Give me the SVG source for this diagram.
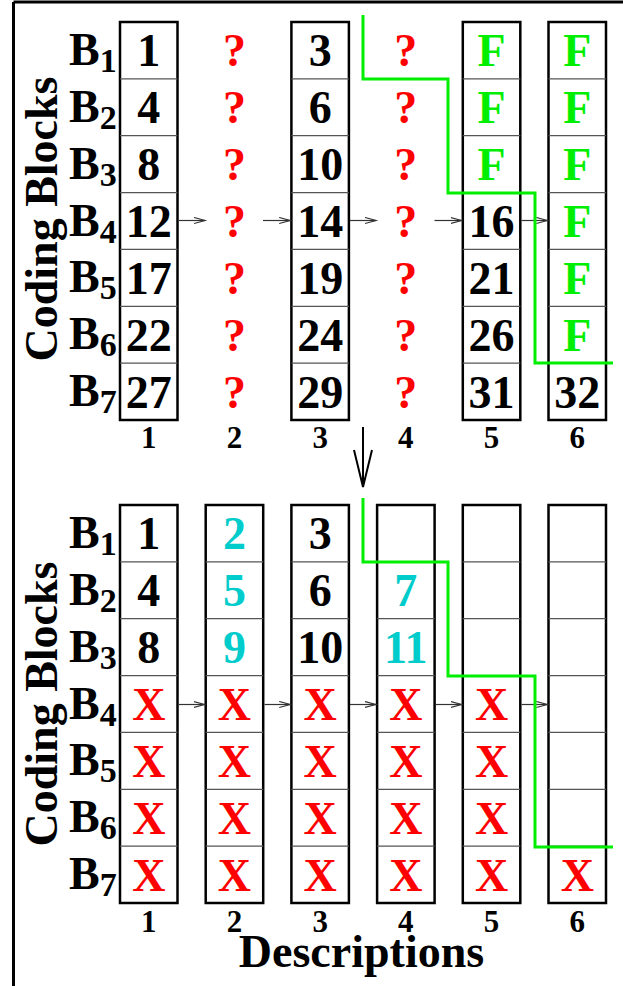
<svg xmlns="http://www.w3.org/2000/svg" width="623" height="986" viewBox="0 0 623 986">
<defs>
<marker id="ah" markerUnits="userSpaceOnUse" markerWidth="14" markerHeight="10" refX="11" refY="4" orient="auto">
<path d="M0,1 L11,4 L0,7" fill="none" stroke="#333" stroke-width="1.2"/>
</marker>
<style>
text{font-family:"Liberation Serif","Times New Roman",serif;font-weight:bold;text-anchor:middle}
.col{fill:#fff;stroke:#000;stroke-width:2.5}
.div{stroke:#555;stroke-width:1.3}
.v{font-size:46px;fill:#000}
.q{font-size:46px;fill:#ff0000}
.f{font-size:46px;fill:#00ee00}
.c{font-size:46px;fill:#00cccc}
.x{font-size:46px;fill:#ff0000}
.n{font-size:31px;fill:#000}
.b{font-size:46px;fill:#000;text-anchor:start}
.s{font-size:34px}
.lab{font-size:46px;fill:#000}
.arr{stroke:#333;stroke-width:1.2;fill:none}
.g{stroke:#00ee00;stroke-width:3;fill:none}
</style>
</defs>

<g id="frame" fill="none" stroke="#000" stroke-width="3">
<line x1="13.5" y1="2" x2="623" y2="2"/>
<line x1="13.5" y1="2" x2="13.5" y2="986"/>
</g>

<!-- ===== TOP PANEL ===== -->
<g id="top-labels">
<text class="lab" transform="translate(57,219) rotate(-90)">Coding Blocks</text>
<text class="b" x="69" y="65">B<tspan class="s" dy="7">1</tspan></text>
<text class="b" x="69" y="122">B<tspan class="s" dy="7">2</tspan></text>
<text class="b" x="69" y="179">B<tspan class="s" dy="7">3</tspan></text>
<text class="b" x="69" y="236">B<tspan class="s" dy="7">4</tspan></text>
<text class="b" x="69" y="292">B<tspan class="s" dy="7">5</tspan></text>
<text class="b" x="69" y="349">B<tspan class="s" dy="7">6</tspan></text>
<text class="b" x="69" y="406">B<tspan class="s" dy="7">7</tspan></text>
</g>

<g id="top-col1">
<rect class="col" x="120" y="22" width="57.5" height="398"/>
<line class="div" x1="120" y1="78.9" x2="177.5" y2="78.9"/>
<line class="div" x1="120" y1="135.7" x2="177.5" y2="135.7"/>
<line class="div" x1="120" y1="192.6" x2="177.5" y2="192.6"/>
<line class="div" x1="120" y1="249.4" x2="177.5" y2="249.4"/>
<line class="div" x1="120" y1="306.3" x2="177.5" y2="306.3"/>
<line class="div" x1="120" y1="363.1" x2="177.5" y2="363.1"/>
<text class="v" x="148.75" y="66.4">1</text>
<text class="v" x="148.75" y="123.3">4</text>
<text class="v" x="148.75" y="180.1">8</text>
<text class="v" x="148.75" y="237">12</text>
<text class="v" x="148.75" y="293.9">17</text>
<text class="v" x="148.75" y="350.7">22</text>
<text class="v" x="148.75" y="407.6">27</text>
<text class="n" x="148.75" y="448">1</text>
</g>

<g id="top-col2">
<text class="q" x="234.45" y="66.4">?</text>
<text class="q" x="234.45" y="123.3">?</text>
<text class="q" x="234.45" y="180.1">?</text>
<text class="q" x="234.45" y="237">?</text>
<text class="q" x="234.45" y="293.9">?</text>
<text class="q" x="234.45" y="350.7">?</text>
<text class="q" x="234.45" y="407.6">?</text>
<text class="n" x="234.45" y="448">2</text>
</g>

<g id="top-col3">
<rect class="col" x="291.4" y="22" width="57.5" height="398"/>
<line class="div" x1="291.4" y1="78.9" x2="348.9" y2="78.9"/>
<line class="div" x1="291.4" y1="135.7" x2="348.9" y2="135.7"/>
<line class="div" x1="291.4" y1="192.6" x2="348.9" y2="192.6"/>
<line class="div" x1="291.4" y1="249.4" x2="348.9" y2="249.4"/>
<line class="div" x1="291.4" y1="306.3" x2="348.9" y2="306.3"/>
<line class="div" x1="291.4" y1="363.1" x2="348.9" y2="363.1"/>
<text class="v" x="320.15" y="66.4">3</text>
<text class="v" x="320.15" y="123.3">6</text>
<text class="v" x="320.15" y="180.1">10</text>
<text class="v" x="320.15" y="237">14</text>
<text class="v" x="320.15" y="293.9">19</text>
<text class="v" x="320.15" y="350.7">24</text>
<text class="v" x="320.15" y="407.6">29</text>
<text class="n" x="320.15" y="448">3</text>
</g>

<g id="top-col4">
<text class="q" x="405.85" y="66.4">?</text>
<text class="q" x="405.85" y="123.3">?</text>
<text class="q" x="405.85" y="180.1">?</text>
<text class="q" x="405.85" y="237">?</text>
<text class="q" x="405.85" y="293.9">?</text>
<text class="q" x="405.85" y="350.7">?</text>
<text class="q" x="405.85" y="407.6">?</text>
<text class="n" x="405.85" y="448">4</text>
</g>

<g id="top-col5">
<rect class="col" x="462.8" y="22" width="57.5" height="398"/>
<line class="div" x1="462.8" y1="78.9" x2="520.3" y2="78.9"/>
<line class="div" x1="462.8" y1="135.7" x2="520.3" y2="135.7"/>
<line class="div" x1="462.8" y1="192.6" x2="520.3" y2="192.6"/>
<line class="div" x1="462.8" y1="249.4" x2="520.3" y2="249.4"/>
<line class="div" x1="462.8" y1="306.3" x2="520.3" y2="306.3"/>
<line class="div" x1="462.8" y1="363.1" x2="520.3" y2="363.1"/>
<text class="f" x="491.55" y="66.4">F</text>
<text class="f" x="491.55" y="123.3">F</text>
<text class="f" x="491.55" y="180.1">F</text>
<text class="v" x="491.55" y="237">16</text>
<text class="v" x="491.55" y="293.9">21</text>
<text class="v" x="491.55" y="350.7">26</text>
<text class="v" x="491.55" y="407.6">31</text>
<text class="n" x="491.55" y="448">5</text>
</g>

<g id="top-col6">
<rect class="col" x="548.5" y="22" width="57.5" height="398"/>
<line class="div" x1="548.5" y1="78.9" x2="606" y2="78.9"/>
<line class="div" x1="548.5" y1="135.7" x2="606" y2="135.7"/>
<line class="div" x1="548.5" y1="192.6" x2="606" y2="192.6"/>
<line class="div" x1="548.5" y1="249.4" x2="606" y2="249.4"/>
<line class="div" x1="548.5" y1="306.3" x2="606" y2="306.3"/>
<line class="div" x1="548.5" y1="363.1" x2="606" y2="363.1"/>
<text class="f" x="577.25" y="66.4">F</text>
<text class="f" x="577.25" y="123.3">F</text>
<text class="f" x="577.25" y="180.1">F</text>
<text class="f" x="577.25" y="237">F</text>
<text class="f" x="577.25" y="293.9">F</text>
<text class="f" x="577.25" y="350.7">F</text>
<text class="v" x="577.25" y="407.6">32</text>
<text class="n" x="577.25" y="448">6</text>
</g>

<!-- ===== BOTTOM PANEL ===== -->
<g id="bottom-labels">
<text class="lab" transform="translate(57,704) rotate(-90)">Coding Blocks</text>
<text class="b" x="69" y="548">B<tspan class="s" dy="7">1</tspan></text>
<text class="b" x="69" y="605">B<tspan class="s" dy="7">2</tspan></text>
<text class="b" x="69" y="662">B<tspan class="s" dy="7">3</tspan></text>
<text class="b" x="69" y="719">B<tspan class="s" dy="7">4</tspan></text>
<text class="b" x="69" y="775">B<tspan class="s" dy="7">5</tspan></text>
<text class="b" x="69" y="832">B<tspan class="s" dy="7">6</tspan></text>
<text class="b" x="69" y="889">B<tspan class="s" dy="7">7</tspan></text>
<text class="lab" x="361.5" y="967">Descriptions</text>
</g>

<g id="bottom-col1">
<rect class="col" x="120" y="505" width="57.5" height="398"/>
<line class="div" x1="120" y1="561.9" x2="177.5" y2="561.9"/>
<line class="div" x1="120" y1="618.7" x2="177.5" y2="618.7"/>
<line class="div" x1="120" y1="675.6" x2="177.5" y2="675.6"/>
<line class="div" x1="120" y1="732.4" x2="177.5" y2="732.4"/>
<line class="div" x1="120" y1="789.3" x2="177.5" y2="789.3"/>
<line class="div" x1="120" y1="846.1" x2="177.5" y2="846.1"/>
<text class="v" x="148.75" y="549.4">1</text>
<text class="v" x="148.75" y="606.3">4</text>
<text class="v" x="148.75" y="663.1">8</text>
<text class="x" x="148.75" y="720">X</text>
<text class="x" x="148.75" y="776.9">X</text>
<text class="x" x="148.75" y="833.7">X</text>
<text class="x" x="148.75" y="890.6">X</text>
<text class="n" x="148.75" y="932">1</text>
</g>

<g id="bottom-col2">
<rect class="col" x="205.7" y="505" width="57.5" height="398"/>
<line class="div" x1="205.7" y1="561.9" x2="263.2" y2="561.9"/>
<line class="div" x1="205.7" y1="618.7" x2="263.2" y2="618.7"/>
<line class="div" x1="205.7" y1="675.6" x2="263.2" y2="675.6"/>
<line class="div" x1="205.7" y1="732.4" x2="263.2" y2="732.4"/>
<line class="div" x1="205.7" y1="789.3" x2="263.2" y2="789.3"/>
<line class="div" x1="205.7" y1="846.1" x2="263.2" y2="846.1"/>
<text class="c" x="234.45" y="549.4">2</text>
<text class="c" x="234.45" y="606.3">5</text>
<text class="c" x="234.45" y="663.1">9</text>
<text class="x" x="234.45" y="720">X</text>
<text class="x" x="234.45" y="776.9">X</text>
<text class="x" x="234.45" y="833.7">X</text>
<text class="x" x="234.45" y="890.6">X</text>
<text class="n" x="234.45" y="932">2</text>
</g>

<g id="bottom-col3">
<rect class="col" x="291.4" y="505" width="57.5" height="398"/>
<line class="div" x1="291.4" y1="561.9" x2="348.9" y2="561.9"/>
<line class="div" x1="291.4" y1="618.7" x2="348.9" y2="618.7"/>
<line class="div" x1="291.4" y1="675.6" x2="348.9" y2="675.6"/>
<line class="div" x1="291.4" y1="732.4" x2="348.9" y2="732.4"/>
<line class="div" x1="291.4" y1="789.3" x2="348.9" y2="789.3"/>
<line class="div" x1="291.4" y1="846.1" x2="348.9" y2="846.1"/>
<text class="v" x="320.15" y="549.4">3</text>
<text class="v" x="320.15" y="606.3">6</text>
<text class="v" x="320.15" y="663.1">10</text>
<text class="x" x="320.15" y="720">X</text>
<text class="x" x="320.15" y="776.9">X</text>
<text class="x" x="320.15" y="833.7">X</text>
<text class="x" x="320.15" y="890.6">X</text>
<text class="n" x="320.15" y="932">3</text>
</g>

<g id="bottom-col4">
<rect class="col" x="377.1" y="505" width="57.5" height="398"/>
<line class="div" x1="377.1" y1="561.9" x2="434.6" y2="561.9"/>
<line class="div" x1="377.1" y1="618.7" x2="434.6" y2="618.7"/>
<line class="div" x1="377.1" y1="675.6" x2="434.6" y2="675.6"/>
<line class="div" x1="377.1" y1="732.4" x2="434.6" y2="732.4"/>
<line class="div" x1="377.1" y1="789.3" x2="434.6" y2="789.3"/>
<line class="div" x1="377.1" y1="846.1" x2="434.6" y2="846.1"/>
<text class="c" x="405.85" y="606.3">7</text>
<text class="c" x="405.85" y="663.1">11</text>
<text class="x" x="405.85" y="720">X</text>
<text class="x" x="405.85" y="776.9">X</text>
<text class="x" x="405.85" y="833.7">X</text>
<text class="x" x="405.85" y="890.6">X</text>
<text class="n" x="405.85" y="932">4</text>
</g>

<g id="bottom-col5">
<rect class="col" x="462.8" y="505" width="57.5" height="398"/>
<line class="div" x1="462.8" y1="561.9" x2="520.3" y2="561.9"/>
<line class="div" x1="462.8" y1="618.7" x2="520.3" y2="618.7"/>
<line class="div" x1="462.8" y1="675.6" x2="520.3" y2="675.6"/>
<line class="div" x1="462.8" y1="732.4" x2="520.3" y2="732.4"/>
<line class="div" x1="462.8" y1="789.3" x2="520.3" y2="789.3"/>
<line class="div" x1="462.8" y1="846.1" x2="520.3" y2="846.1"/>
<text class="x" x="491.55" y="720">X</text>
<text class="x" x="491.55" y="776.9">X</text>
<text class="x" x="491.55" y="833.7">X</text>
<text class="x" x="491.55" y="890.6">X</text>
<text class="n" x="491.55" y="932">5</text>
</g>

<g id="bottom-col6">
<rect class="col" x="548.5" y="505" width="57.5" height="398"/>
<line class="div" x1="548.5" y1="561.9" x2="606" y2="561.9"/>
<line class="div" x1="548.5" y1="618.7" x2="606" y2="618.7"/>
<line class="div" x1="548.5" y1="675.6" x2="606" y2="675.6"/>
<line class="div" x1="548.5" y1="732.4" x2="606" y2="732.4"/>
<line class="div" x1="548.5" y1="789.3" x2="606" y2="789.3"/>
<line class="div" x1="548.5" y1="846.1" x2="606" y2="846.1"/>
<text class="x" x="577.25" y="890.6">X</text>
<text class="n" x="577.25" y="932">6</text>
</g>

<g id="connectors">
<line class="arr" x1="178.8" y1="220.5" x2="205" y2="220.5" marker-end="url(#ah)"/>
<line class="arr" x1="263" y1="220.5" x2="290.2" y2="220.5" marker-end="url(#ah)"/>
<line class="arr" x1="350" y1="220.5" x2="376" y2="220.5" marker-end="url(#ah)"/>
<line class="arr" x1="434.5" y1="220.5" x2="461.6" y2="220.5" marker-end="url(#ah)"/>
<line class="arr" x1="521.5" y1="220.5" x2="547.3" y2="220.5" marker-end="url(#ah)"/>
<line class="arr" x1="178.8" y1="704.5" x2="204.5" y2="704.5" marker-end="url(#ah)"/>
<line class="arr" x1="264.5" y1="704.5" x2="290.2" y2="704.5" marker-end="url(#ah)"/>
<line class="arr" x1="350" y1="704.5" x2="375.9" y2="704.5" marker-end="url(#ah)"/>
<line class="arr" x1="435.8" y1="704.5" x2="461.6" y2="704.5" marker-end="url(#ah)"/>
<line class="arr" x1="521.5" y1="704.5" x2="547.3" y2="704.5" marker-end="url(#ah)"/>
<polyline class="g" points="363,15 363,79 448,79 448,193 535,193 535,363 613,363"/>
<polyline class="g" points="363,498 363,562 448,562 448,676 535,676 535,847 613,847"/>
<g stroke="#000" stroke-width="2" fill="none">
<line x1="363" y1="427" x2="363" y2="487"/>
<polyline points="354,450 363,487 372,450"/>
</g>
</g>
</svg>
